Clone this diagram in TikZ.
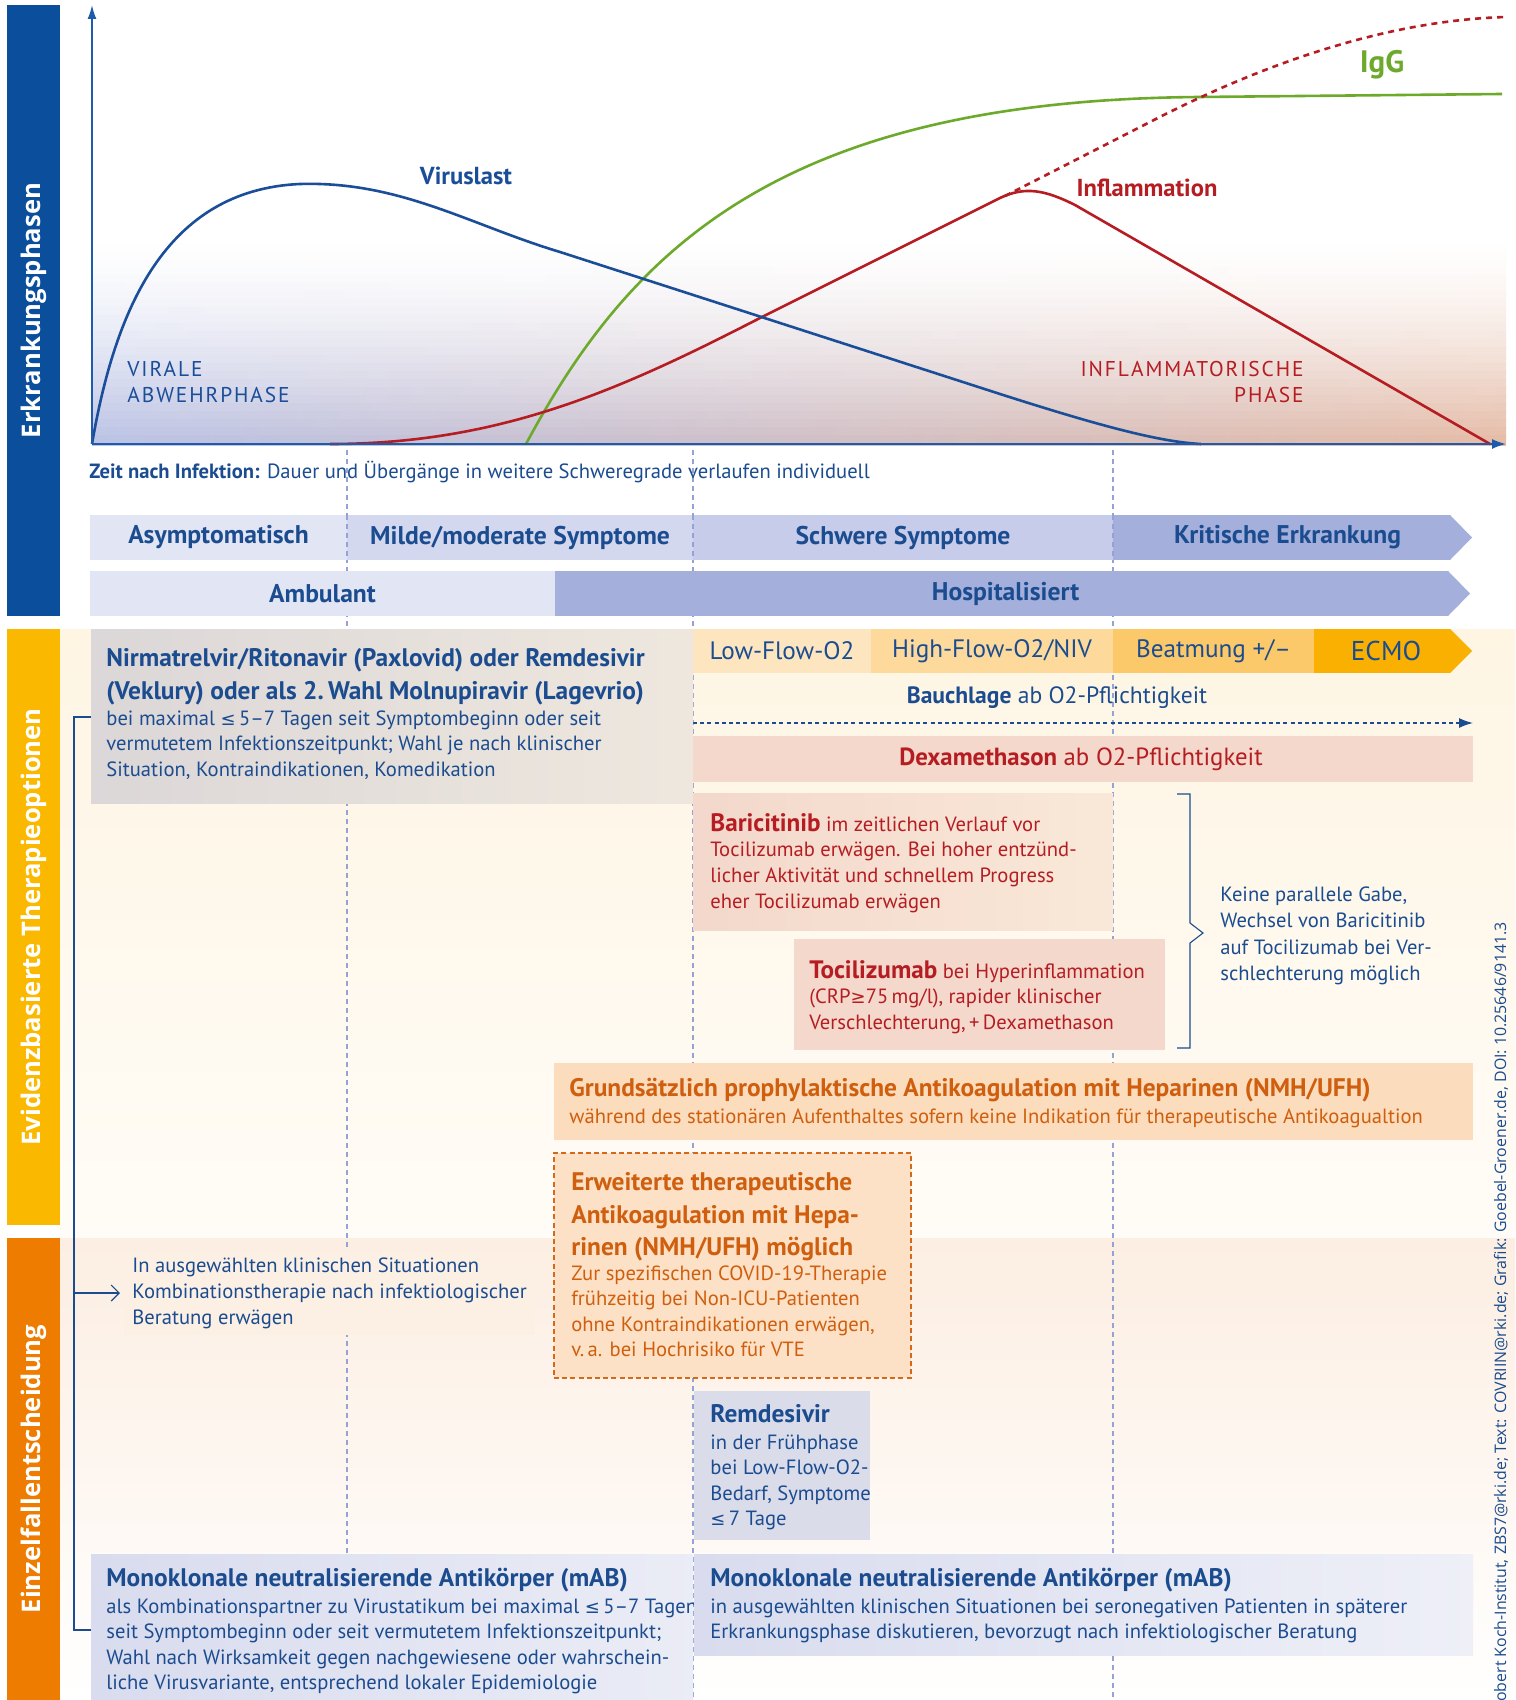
\documentclass[tikz,border=0pt]{standalone}
\usepackage{fontspec}
\setmainfont{PT Sans}
\newfontfamily\bandfont{Open Sans}
\newfontfamily\symfont{DejaVu Sans}
\usetikzlibrary{arrows.meta,fit}

\definecolor{rkiblue}{HTML}{1B4C8F}
\definecolor{axisblue}{HTML}{1E5BAA}
\definecolor{bandblue}{HTML}{0B4F9C}
\definecolor{virusblue}{HTML}{1A4E98}
\definecolor{infred}{HTML}{B51D23}
\definecolor{igggreen}{HTML}{6DAA2C}
\definecolor{orangetxt}{HTML}{CF5F0E}
\definecolor{bandyellow}{HTML}{FAB900}
\definecolor{bandorange}{HTML}{EE7C00}
\definecolor{guidecol}{HTML}{95A3D4}
\definecolor{cream}{HTML}{FEF5E3}
\definecolor{creamlight}{HTML}{FFFCF7}
\definecolor{peach}{HTML}{FCEEE2}
\definecolor{phaseA}{HTML}{E2E5F3}
\definecolor{phaseB}{HTML}{D4D8EE}
\definecolor{phaseC}{HTML}{C6CCE9}
\definecolor{phaseD}{HTML}{A4AFDB}
\definecolor{otwoA}{HTML}{FDE6BF}
\definecolor{otwoB}{HTML}{FDD99B}
\definecolor{otwoC}{HTML}{FCC96A}
\definecolor{otwoD}{HTML}{F9B000}
\definecolor{dexafill}{HTML}{F3D8CB}
\definecolor{grundfill}{HTML}{FBDCBD}
\definecolor{erwfill}{HTML}{FCE1C6}
\definecolor{erwline}{HTML}{D2691B}
\definecolor{remdfill}{HTML}{DBDCEA}
\definecolor{mabfill}{HTML}{D9DCEE}
\definecolor{nirmfill}{HTML}{DCD7D8}
\definecolor{chartL}{HTML}{BAC2E5}
\definecolor{chartM}{HTML}{E5D8DA}
\definecolor{chartR}{HTML}{E5BBA6}

\newcommand{\leqchar}{{\symfont\fontsize{9}{10}\selectfont ≤}}
\newcommand{\geqchar}{{\symfont\fontsize{9}{10}\selectfont ≥}}

\begin{document}
\begin{tikzpicture}[x=0.5pt, y=-0.5pt,
    box/.style={inner sep=0pt, outer sep=0pt},
    body/.style={anchor=north west, inner sep=0pt, align=left, font=\fontsize{10.3}{12.8}\selectfont},
    head/.style={anchor=north west, inner sep=0pt, align=left, font=\fontsize{12.7}{16.3}\selectfont\bfseries},
    phaselbl/.style={text=rkiblue, font=\fontsize{12.8}{14}\selectfont\bfseries},
    otwolbl/.style={text=rkiblue, font=\fontsize{12.6}{14}\selectfont},
    bandlbl/.style={rotate=90, text=white, font=\bandfont\fontsize{12.8}{14}\selectfont\bfseries},
    guide/.style={draw=guidecol, line width=0.6pt, dash pattern=on 2.5pt off 2pt},
    curve/.style={line width=1.3pt},
    linkline/.style={draw=rkiblue, line width=0.55pt}]

    \useasboundingbox (0,0) rectangle (1515,1700);
    \clip (0,0) rectangle (1515,1700);
    \fill[white] (0,0) rectangle (1515,1700);

    % side bands
    \node[box, fit={(7,5) (60,616)}, fill=bandblue] (bandphase) {};
    \node[box, fit={(7,629) (60,1225)}, fill=bandyellow] (bandevid) {};
    \node[box, fit={(7,1238) (60,1700)}, fill=bandorange] (bandcase) {};
    \node at (bandphase.center) [bandlbl] (bandphaselbl) {Erkrankungsphasen};
    \node at (bandevid.center) [bandlbl] (bandevidlbl) {Evidenzbasierte Therapieoptionen};
    \node at (bandcase.center) [bandlbl] (bandcaselbl) {Einzelfallentscheidung};

    % backgrounds
    \foreach \i in {0,...,25} {
        \pgfmathsetmacro{\chartpct}{100*((\i+0.5)/26)^1.5}
        \fill[left color=chartL!\chartpct!white, middle color=chartM!\chartpct!white, right color=chartR!\chartpct!white]
            (92,{236+\i*8}) rectangle (1506,{245+\i*8});
    }
    \fill[top color=cream, bottom color=creamlight] (60,629) rectangle (1515,1238);
    \fill[top color=peach, bottom color=white] (60,1238) rectangle (1515,1700);

    % guide lines
    \draw[guide] (347,450) -- (347,1560);
    \draw[guide] (693,450) -- (693,1700);
    \draw[guide] (1113,450) -- (1113,1700);

    % chart
    \coordinate (origin) at (92,444);
    \coordinate (ytop) at (92,5);
    \coordinate (xend) at (1506,444);
    \draw[curve, igggreen] (526,444) .. controls (630,250) and (780,100) .. (1200,97) -- (1502,94);
    \draw[curve, infred] (330,444) .. controls (500,444) and (620,390) .. (760,318) -- (1000,198) .. controls (1025,186) and (1045,190) .. (1075,205) -- (1490,444);
    \draw[curve, infred, dash pattern=on 3pt off 2.5pt] (1005,196) -- (1150,122) .. controls (1280,55) and (1400,20) .. (1506,17);
    \draw[curve, virusblue] (92,444) .. controls (115,310) and (165,190) .. (300,184) .. controls (400,181) and (470,225) .. (560,252) -- (1000,394) .. controls (1100,426) and (1160,442) .. (1201,444);
    \draw[axisblue, line width=0.9pt, -{Latex[length=7pt,width=4.5pt]}] (origin) -- (ytop);
    \draw[axisblue, line width=0.9pt, -{Latex[length=7pt,width=5pt]}] (origin) -- (xend);

    \node at (466,176) [text=virusblue, font=\fontsize{12.3}{14}\selectfont\bfseries] (viruslbl) {Viruslast};
    \node at (1147,188) [text=infred, font=\fontsize{12.3}{14}\selectfont\bfseries] (inflbl) {Inflammation};
    \node at (1382,65) [text=igggreen, font=\fontsize{15.5}{17}\selectfont\bfseries] (igglbl) {IgG};
    \node at (127,361) [body, text=virusblue, font=\fontsize{10.7}{13}\selectfont\addfontfeatures{LetterSpace=9}] (viralphase) {VIRALE\\ABWEHRPHASE};
    \node at (1304,361) [body, anchor=north east, align=right, text=infred, font=\fontsize{10.7}{13}\selectfont\addfontfeatures{LetterSpace=9}] (infphase) {INFLAMMATORISCHE\\PHASE};
    \node at (89,461) [body, text=rkiblue] (zeit) {\textbf{Zeit nach Infektion:} Dauer und Übergänge in weitere Schweregrade verlaufen individuell};

    % phases
    \node[box, fit={(90,515) (347,560)}, fill=phaseA] (asym) {};
    \node[box, fit={(347,515) (693,560)}, fill=phaseB] (milde) {};
    \node[box, fit={(693,515) (1113,560)}, fill=phaseC] (schwer) {};
    \node[box, fit={(1113,515) (1450,560)}, fill=phaseD] (krit) {};
    \fill[phaseD] (krit.north east) -- ([xshift=11pt]krit.east) -- (krit.south east) -- cycle;
    \draw[guide] (asym.north east) -- (asym.south east);
    \draw[guide] (milde.north east) -- (milde.south east);
    \draw[guide] (schwer.north east) -- (schwer.south east);
    \node at (asym.center) [phaselbl] (asymlbl) {Asymptomatisch};
    \node at (milde.center) [phaselbl] (mildelbl) {Milde/moderate Symptome};
    \node at (schwer.center) [phaselbl] (schwerlbl) {Schwere Symptome};
    \node at ([xshift=3pt]krit.center) [phaselbl] (kritlbl) {Kritische Erkrankung};
    \node[box, fit={(90,571) (555,616)}, fill=phaseA] (amb) {};
    \node[box, fit={(555,571) (1448,616)}, fill=phaseD] (hosp) {};
    \fill[phaseD] (hosp.north east) -- ([xshift=11pt]hosp.east) -- (hosp.south east) -- cycle;
    \node at (amb.center) [phaselbl] (amblbl) {Ambulant};
    \node at ([xshift=2pt]hosp.center) [phaselbl] (hosplbl) {Hospitalisiert};

    % oxygen row
    \node[box, fit={(693,629) (871,673)}, fill=otwoA] (lowflow) {};
    \node[box, fit={(871,629) (1113,673)}, fill=otwoB] (highflow) {};
    \node[box, fit={(1113,629) (1314,673)}, fill=otwoC] (beatmung) {};
    \node[box, fit={(1314,629) (1450,673)}, fill=otwoD] (ecmo) {};
    \fill[otwoD] (ecmo.north east) -- ([xshift=11pt]ecmo.east) -- (ecmo.south east) -- cycle;
    \node at (lowflow.center) [otwolbl] (lowflowlbl) {Low-Flow-O2};
    \node at (highflow.center) [otwolbl] (highflowlbl) {High-Flow-O2/NIV};
    \node at (beatmung.center) [otwolbl] (beatmunglbl) {Beatmung +/--};
    \node at ([xshift=2pt]ecmo.center) [otwolbl, font=\fontsize{13.6}{15}\selectfont] (ecmolbl) {ECMO};

    \node at (1057,698) [text=rkiblue, font=\fontsize{11.8}{14}\selectfont] (bauch) {\textbf{Bauchlage} ab O2-Pflichtigkeit};
    \coordinate (bauchstart) at (693,723);
    \coordinate (bauchend) at (1473,723);
    \draw[rkiblue, line width=0.7pt, dash pattern=on 2pt off 1.6pt, -{Latex[length=7pt,width=5pt]}] (bauchstart) -- (bauchend);

    \node[box, fit={(693,736) (1473,782)}, fill=dexafill] (dexa) {};
    \node at ([xshift=-1pt]dexa.center) [text=infred, font=\fontsize{12.4}{14}\selectfont] (dexalbl) {\textbf{Dexamethason} ab O2-Pflichtigkeit};

    % early therapy
    \node[box, fit={(91,629) (693,803)}, left color=nirmfill, right color=nirmfill!45!cream] (nirm) {};
    \node at (106,648) [head, text=rkiblue] (nirmhead) {Nirmatrelvir/Ritonavir (Paxlovid) oder Remdesivir\\(Veklury) oder als 2.\,Wahl Molnupiravir (Lagevrio)};
    \node at (106,710) [body, text=rkiblue] (nirmtext) {bei maximal \leqchar\,5--7 Tagen seit Symptombeginn oder seit\\vermutetem Infektionszeitpunkt; Wahl je nach klinischer\\Situation, Kontraindikationen, Komedikation};

    % immunomodulation
    \node[box, fit={(693,793) (1113,930)}, left color=dexafill, right color=dexafill!45!cream] (bari) {};
    \node at (710,813) [body, text=infred] (baritext) {{\fontsize{12.6}{12.8}\selectfont\bfseries Baricitinib} im zeitlichen Verlauf vor\\Tocilizumab erwägen. Bei hoher entzünd-\\licher Aktivität und schnellem Progress\\eher Tocilizumab erwägen};
    \node[box, fit={(794,939) (1165,1050)}, fill=dexafill] (toci) {};
    \node at (809,960) [body, text=infred] (tocitext) {{\fontsize{12.6}{12.8}\selectfont\bfseries Tocilizumab} bei Hyperinflammation\\(CRP\geqchar75\,mg/l), rapider klinischer\\Verschlechterung,\,+\,Dexamethason};
    \coordinate (brtop) at (1190,794);
    \coordinate (brbot) at (1190,1048);
    \coordinate (brtip) at (1203,933);
    \draw[linkline] ([xshift=-6.5pt]brtop) -- (brtop) -- ([yshift=5pt]brtip -| brtop) -- (brtip) -- ([yshift=-5pt]brtip -| brtop) -- (brbot) -- ([xshift=-6.5pt]brbot);
    \node at (1220,886) [body, text=rkiblue, font=\fontsize{10.3}{13.3}\selectfont] (keine) {Keine parallele Gabe,\\Wechsel von Baricitinib\\auf Tocilizumab bei Ver-\\schlechterung möglich};

    % anticoagulation
    \node[box, fit={(554,1063) (1473,1140)}, fill=grundfill] (grund) {};
    \node at (569,1078) [head, text=orangetxt] (grundhead) {Grundsätzlich prophylaktische Antikoagulation mit Heparinen (NMH/UFH)};
    \node at (569,1108) [body, text=orangetxt] (grundtext) {während des stationären Aufenthaltes sofern keine Indikation für therapeutische Antikoagualtion};
    \node[box, fit={(554,1153) (911,1378)}, fill=erwfill, draw=erwline, line width=0.8pt, dash pattern=on 2.5pt off 1.6pt] (erw) {};
    \node at (571,1172) [head, text=orangetxt] (erwhead) {Erweiterte therapeutische\\Antikoagulation mit Hepa-\\rinen (NMH/UFH) möglich};
    \node at (571,1265) [body, text=orangetxt] (erwtext) {Zur spezifischen COVID-19-Therapie\\frühzeitig bei Non-ICU-Patienten\\ohne Kontraindikationen erwägen,\\v.\,a. bei Hochrisiko für VTE};

    % individual decisions
    \node at (124,1293) [body, anchor=west, text=rkiblue, fill=peach!88!white, inner ysep=3pt, inner xsep=4pt, font=\fontsize{10.3}{13}\selectfont] (ausw) {In ausgewählten klinischen Situationen\\Kombinationstherapie nach infektiologischer\\Beratung erwägen};
    \node[box, fit={(694,1391) (870,1540)}, fill=remdfill] (remd) {};
    \node at (710,1404) [head, text=rkiblue] (remdhead) {Remdesivir};
    \node at (710,1434) [body, text=rkiblue] (remdtext) {in der Frühphase\\bei Low-Flow-O2-\\Bedarf, Symptome\\\leqchar\,7 Tage};
    \node[box, fit={(91,1554) (693,1700)}, left color=mabfill, right color=mabfill!55!white] (mabl) {};
    \node at (106,1568) [head, text=rkiblue] (mablhead) {Monoklonale neutralisierende Antikörper (mAB)};
    \node at (106,1598) [body, text=rkiblue] (mabltext) {als Kombinationspartner zu Virustatikum bei maximal \leqchar\,5--7 Tagen\\seit Symptombeginn oder seit vermutetem Infektionszeitpunkt;\\Wahl nach Wirksamkeit gegen nachgewiesene oder wahrschein-\\liche Virusvariante, entsprechend lokaler Epidemiologie};
    \node[box, fit={(694,1554) (1473,1655)}, left color=mabfill, right color=mabfill!45!white] (mabr) {};
    \node at (710,1568) [head, text=rkiblue] (mabrhead) {Monoklonale neutralisierende Antikörper (mAB)};
    \node at (710,1598) [body, text=rkiblue] (mabrtext) {in ausgewählten klinischen Situationen bei seronegativen Patienten in späterer\\Erkrankungsphase diskutieren, bevorzugt nach infektiologischer Beratung};

    % left bracket
    \coordinate (lbtop) at (74,717);
    \coordinate (lbbot) at (74,1630);
    \draw[linkline] (nirm.west |- lbtop) -- (lbtop) -- (lbbot) -- (mabl.west |- lbbot);
    \draw[linkline, -{Straight Barb[length=4pt,width=8pt]}] (lbtop |- ausw.west) -- ([xshift=-2pt]ausw.west);

    % credits
    \node at (1501,922) [rotate=90, anchor=east, inner sep=0pt, text=rkiblue, font=\bandfont\fontsize{7.95}{9}\selectfont] (credit) {Robert Koch-Institut, ZBS7@rki.de; Text: COVRIIN@rki.de; Grafik: Goebel-Groener.de, DOI: 10.25646/9141.3};
\end{tikzpicture}
\end{document}
